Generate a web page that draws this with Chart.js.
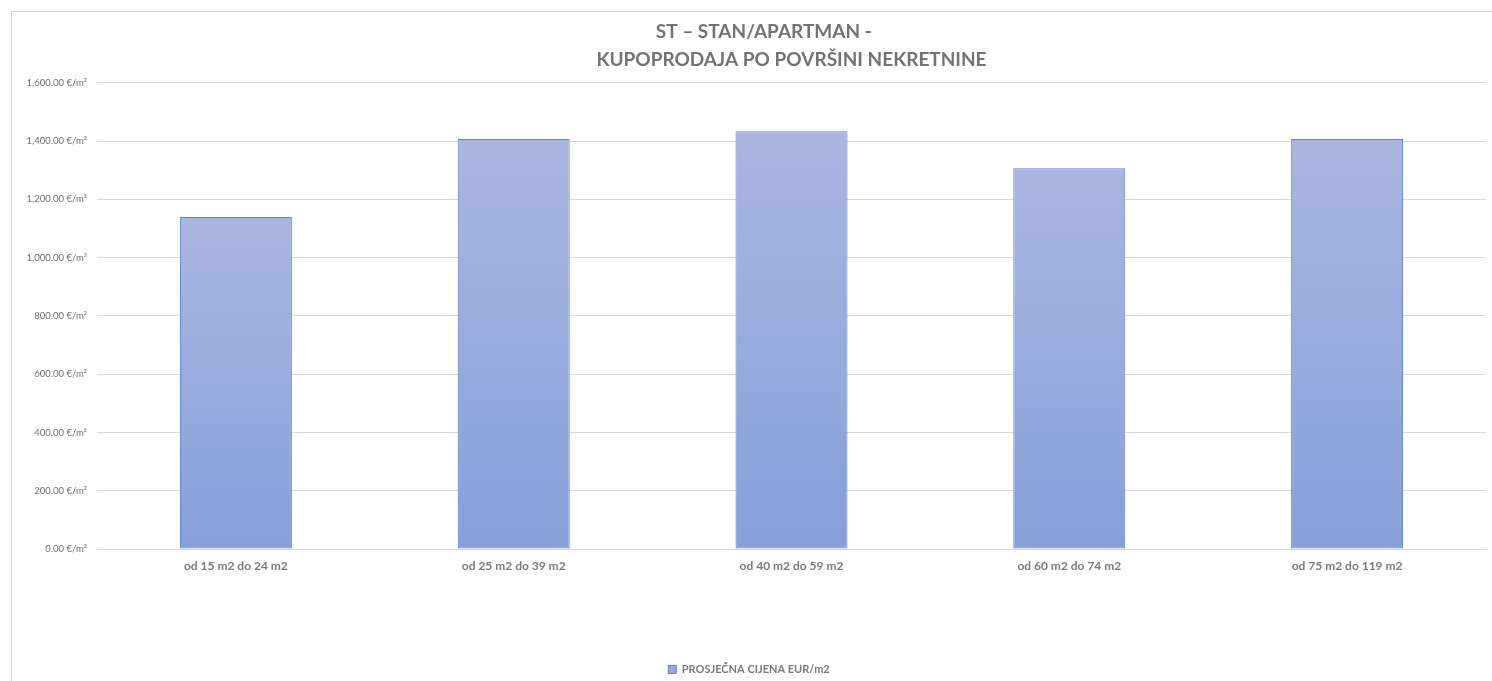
<!DOCTYPE html>
<html>
<head>
<meta charset="utf-8">
<script src="https://cdn.jsdelivr.net/npm/chart.js@4"></script>
<style>
  html, body { margin:0; padding:0; background:#fff; overflow:hidden; }
  #wrap { position:absolute; left:11px; top:11px; width:1490px; height:680px; border-left:1px solid #d9d9d9; border-top:1px solid #d9d9d9; }
  canvas { position:absolute; left:0; top:0; }
</style>
</head>
<body>
<div id="wrap"><canvas id="c" width="1480" height="669"></canvas></div>
<script>
const categories = ['od 15 m2 do 24 m2', 'od 25 m2 do 39 m2', 'od 40 m2 do 59 m2', 'od 60 m2 do 74 m2', 'od 75 m2 do 119 m2'];
const avgPrice = [1140, 1407, 1434, 1307, 1407];
const seriesName = 'PROSJEČNA CIJENA EUR/m2';
const titleLines = ['ST – STAN/APARTMAN -' + '\u00a0'.repeat(12), 'KUPOPRODAJA PO POVRŠINI NEKRETNINE'];
const yTicks = [0, 200, 400, 600, 800, 1000, 1200, 1400, 1600];

const FONT = 'Lato, "Open Sans", sans-serif';

function barGradient(ctx) {
  const chart = ctx.chart;
  const area = chart.chartArea;
  if (!area) return '#98aadb';
  if (ctx.type !== 'data') return '#98aadb';
  const y = chart.scales.y;
  const top = y.getPixelForValue(ctx.raw);
  const bot = y.getPixelForValue(0);
  const g = chart.ctx.createLinearGradient(0, top, 0, bot);
  g.addColorStop(0, '#a9b7e0');
  g.addColorStop(1, '#879fd8');
  return g;
}

new Chart(document.getElementById('c'), {
  type: 'bar',
  data: {
    labels: categories,
    datasets: [{
      label: seriesName,
      data: avgPrice,
      backgroundColor: barGradient,
      borderColor: '#5a7ed0',
      borderWidth: 1,
      borderSkipped: false,
      categoryPercentage: 1,
      barPercentage: 0.403
    }]
  },
  options: {
    responsive: false,
    devicePixelRatio: 1,
    animation: false,
    layout: { padding: { left: 0, right: 6, top: 0, bottom: -4 } },
    plugins: {
      title: {
        display: true,
        text: titleLines,
        fullSize: false,
        color: '#737373',
        font: { family: FONT, size: 19, weight: 'bold', lineHeight: 1.47 },
        padding: { top: 6, bottom: 9 }
      },
      legend: {
        display: true,
        position: 'bottom',
        labels: {
          color: '#7a7a7a',
          font: { family: FONT, size: 11, weight: 'bold' },
          boxWidth: 8,
          boxHeight: 8,
          padding: 2,
          generateLabels: (chart) => [{
            text: seriesName,
            fillStyle: '#98aadb',
            strokeStyle: '#5a7ed0',
            lineWidth: 1,
            fontColor: '#7a7a7a',
            datasetIndex: 0
          }]
        }
      },
      tooltip: { enabled: false }
    },
    scales: {
      x: {
        grid: { display: false, drawTicks: false },
        border: { display: true, color: '#d9d9d9', width: 1 },
        ticks: { color: '#7a7a7a', font: { family: FONT, size: 12, weight: 'bold' }, padding: 10, maxRotation: 0 },
        afterFit: (axis) => { axis.height = 113; }
      },
      y: {
        min: 0,
        max: 1600,
        afterBuildTicks: (axis) => { axis.ticks = yTicks.map(v => ({ value: v })); },
        grid: { color: '#d9d9d9', lineWidth: 1, drawTicks: false },
        border: { display: false },
        ticks: {
          color: '#6f6f6f',
          font: { family: FONT, size: 9.5 },
          padding: 10,
          callback: (v) => Number(v).toLocaleString('en-US', { minimumFractionDigits: 2, maximumFractionDigits: 2 }) + ' €/m²'
        },
        afterFit: (axis) => { axis.width = 85; }
      }
    }
  }
});
</script>
</body>
</html>
